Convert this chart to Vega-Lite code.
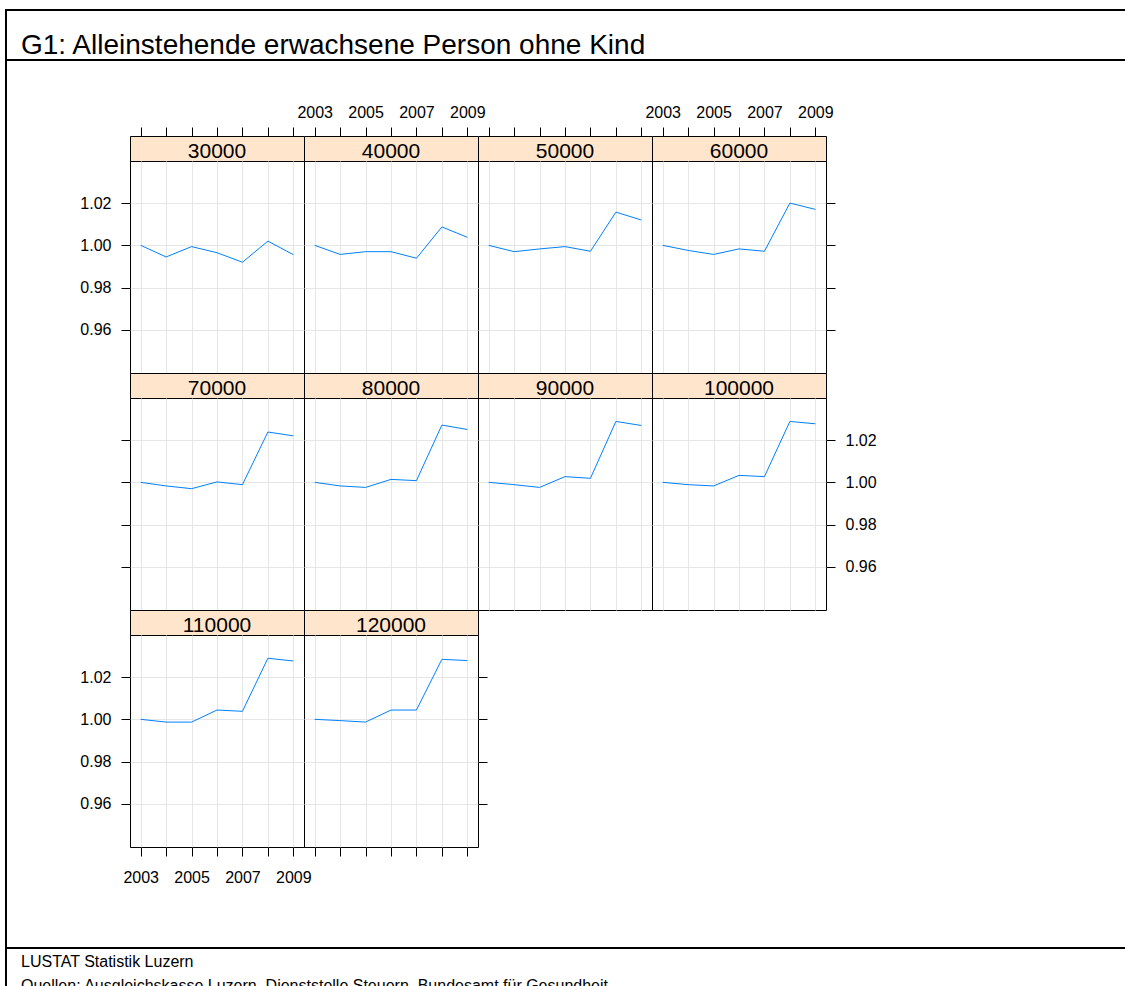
{
  "$schema": "https://vega.github.io/schema/vega-lite/v6.json",
  "padding": {"left": 5, "top": 9, "right": 0, "bottom": 0},
  "background": "white",
  "config": {
    "font": "Liberation Sans",
    "view": {"stroke": "black", "strokeWidth": 1},
    "axis": {"domain": false, "tickColor": "black", "tickWidth": 1, "labelColor": "black", "labelFont": "Liberation Sans", "labelFontSize": 16, "gridColor": "#e6e6e6", "gridWidth": 1, "tickSize": 9, "title": null, "labelFlush": false, "labelOverlap": false},
    "title": {"font": "Liberation Sans", "fontWeight": "normal", "color": "black"}
  },
  "datasets": {
    "d": [
      {"inc": 30000, "year": 2003, "value": 1.0}, {"inc": 30000, "year": 2004, "value": 0.9945}, {"inc": 30000, "year": 2005, "value": 0.9994}, {"inc": 30000, "year": 2006, "value": 0.9965}, {"inc": 30000, "year": 2007, "value": 0.992}, {"inc": 30000, "year": 2008, "value": 1.002}, {"inc": 30000, "year": 2009, "value": 0.9956},
      {"inc": 40000, "year": 2003, "value": 1.0}, {"inc": 40000, "year": 2004, "value": 0.9957}, {"inc": 40000, "year": 2005, "value": 0.997}, {"inc": 40000, "year": 2006, "value": 0.997}, {"inc": 40000, "year": 2007, "value": 0.9939}, {"inc": 40000, "year": 2008, "value": 1.0087}, {"inc": 40000, "year": 2009, "value": 1.0038},
      {"inc": 50000, "year": 2003, "value": 1.0}, {"inc": 50000, "year": 2004, "value": 0.997}, {"inc": 50000, "year": 2005, "value": 0.9983}, {"inc": 50000, "year": 2006, "value": 0.9994}, {"inc": 50000, "year": 2007, "value": 0.9972}, {"inc": 50000, "year": 2008, "value": 1.0157}, {"inc": 50000, "year": 2009, "value": 1.012},
      {"inc": 60000, "year": 2003, "value": 1.0}, {"inc": 60000, "year": 2004, "value": 0.9976}, {"inc": 60000, "year": 2005, "value": 0.9957}, {"inc": 60000, "year": 2006, "value": 0.9983}, {"inc": 60000, "year": 2007, "value": 0.9972}, {"inc": 60000, "year": 2008, "value": 1.02}, {"inc": 60000, "year": 2009, "value": 1.017},
      {"inc": 70000, "year": 2003, "value": 1.0}, {"inc": 70000, "year": 2004, "value": 0.9983}, {"inc": 70000, "year": 2005, "value": 0.997}, {"inc": 70000, "year": 2006, "value": 1.0002}, {"inc": 70000, "year": 2007, "value": 0.9989}, {"inc": 70000, "year": 2008, "value": 1.0238}, {"inc": 70000, "year": 2009, "value": 1.022},
      {"inc": 80000, "year": 2003, "value": 1.0}, {"inc": 80000, "year": 2004, "value": 0.9983}, {"inc": 80000, "year": 2005, "value": 0.9976}, {"inc": 80000, "year": 2006, "value": 1.0014}, {"inc": 80000, "year": 2007, "value": 1.0008}, {"inc": 80000, "year": 2008, "value": 1.0271}, {"inc": 80000, "year": 2009, "value": 1.025},
      {"inc": 90000, "year": 2003, "value": 1.0}, {"inc": 90000, "year": 2004, "value": 0.9989}, {"inc": 90000, "year": 2005, "value": 0.9976}, {"inc": 90000, "year": 2006, "value": 1.0027}, {"inc": 90000, "year": 2007, "value": 1.0019}, {"inc": 90000, "year": 2008, "value": 1.0288}, {"inc": 90000, "year": 2009, "value": 1.0269},
      {"inc": 100000, "year": 2003, "value": 1.0}, {"inc": 100000, "year": 2004, "value": 0.9989}, {"inc": 100000, "year": 2005, "value": 0.9983}, {"inc": 100000, "year": 2006, "value": 1.0033}, {"inc": 100000, "year": 2007, "value": 1.0027}, {"inc": 100000, "year": 2008, "value": 1.0288}, {"inc": 100000, "year": 2009, "value": 1.0277},
      {"inc": 110000, "year": 2003, "value": 1.0}, {"inc": 110000, "year": 2004, "value": 0.9987}, {"inc": 110000, "year": 2005, "value": 0.9987}, {"inc": 110000, "year": 2006, "value": 1.0044}, {"inc": 110000, "year": 2007, "value": 1.0038}, {"inc": 110000, "year": 2008, "value": 1.0289}, {"inc": 110000, "year": 2009, "value": 1.0276},
      {"inc": 120000, "year": 2003, "value": 1.0}, {"inc": 120000, "year": 2004, "value": 0.9994}, {"inc": 120000, "year": 2005, "value": 0.9987}, {"inc": 120000, "year": 2006, "value": 1.0044}, {"inc": 120000, "year": 2007, "value": 1.0044}, {"inc": 120000, "year": 2008, "value": 1.0284}, {"inc": 120000, "year": 2009, "value": 1.0278}
    ]
  },
  "spacing": 0,
  "vconcat": [
    {
      "width": 1120, "height": 50,
      "view": {"stroke": "black", "strokeWidth": 2},
      "data": {"values": []},
      "mark": "point",
      "encoding": {},
      "title": {"text": "G1: Alleinstehende erwachsene Person ohne Kind", "orient": "top", "anchor": "start", "frame": "group", "offset": -72, "baseline": "alphabetic", "dx": 15, "fontSize": 28}
    },
    {
      "columns": 6,
      "spacing": 0,
      "bounds": "flush",
      "align": "each",
      "concat": [
        {"width": 0.01, "height": 74, "view": {"stroke": "black", "strokeWidth": 2}, "data": {"values": []}, "mark": "point", "encoding": {}},
        {"width": 123, "height": 74, "view": {"stroke": null}, "data": {"values": []}, "mark": "point", "encoding": {}},
        {"width": 1, "height": 1, "view": {"stroke": null}, "data": {"values": []}, "mark": "point", "encoding": {}},
        {"width": 1, "height": 1, "view": {"stroke": null}, "data": {"values": []}, "mark": "point", "encoding": {}},
        {"width": 1, "height": 1, "view": {"stroke": null}, "data": {"values": []}, "mark": "point", "encoding": {}},
        {"width": 1, "height": 1, "view": {"stroke": null}, "data": {"values": []}, "mark": "point", "encoding": {}},

        {"width": 0.01, "height": 25, "view": {"stroke": "black", "strokeWidth": 2}, "data": {"values": []}, "mark": "point", "encoding": {}},
        {"width": 1, "height": 1, "view": {"stroke": null}, "data": {"values": []}, "mark": "point", "encoding": {}},
        {"width": 174, "height": 25, "view": {"fill": "#ffe5cc", "stroke": "black"}, "data": {"values": [{"lab": "30000"}]}, "mark": {"type": "text", "fontSize": 21, "dy": 3, "color": "black"}, "encoding": {"text": {"field": "lab", "type": "nominal"}}},
        {"width": 174, "height": 25, "view": {"fill": "#ffe5cc", "stroke": "black"}, "data": {"values": [{"lab": "40000"}]}, "mark": {"type": "text", "fontSize": 21, "dy": 3, "color": "black"}, "encoding": {"text": {"field": "lab", "type": "nominal"}}},
        {"width": 174, "height": 25, "view": {"fill": "#ffe5cc", "stroke": "black"}, "data": {"values": [{"lab": "50000"}]}, "mark": {"type": "text", "fontSize": 21, "dy": 3, "color": "black"}, "encoding": {"text": {"field": "lab", "type": "nominal"}}},
        {"width": 174, "height": 25, "view": {"fill": "#ffe5cc", "stroke": "black"}, "data": {"values": [{"lab": "60000"}]}, "mark": {"type": "text", "fontSize": 21, "dy": 3, "color": "black"}, "encoding": {"text": {"field": "lab", "type": "nominal"}}},

        {"width": 0.01, "height": 212, "view": {"stroke": "black", "strokeWidth": 2}, "data": {"values": []}, "mark": "point", "encoding": {}},
        {"width": 1, "height": 1, "view": {"stroke": null}, "data": {"values": []}, "mark": "point", "encoding": {}},
        {"width": 174, "height": 212, "data": {"name": "d"}, "transform": [{"filter": "datum.inc == 30000"}], "mark": {"type": "line", "color": "#0080ff", "strokeWidth": 1},
         "encoding": {
           "x": {"field": "year", "type": "quantitative", "scale": {"domain": [2002.58, 2009.42], "nice": false, "zero": false}, "axis": {"orient": "top", "offset": 25, "values": [2003, 2004, 2005, 2006, 2007, 2008, 2009], "labels": false, "grid": true}},
           "y": {"field": "value", "type": "quantitative", "scale": {"domain": [0.9396, 1.0399], "nice": false, "zero": false}, "axis": {"orient": "left", "values": [0.96, 0.98, 1.0, 1.02], "format": ".2f", "labelPadding": 10, "grid": true}}
         }},
        {"width": 174, "height": 212, "data": {"name": "d"}, "transform": [{"filter": "datum.inc == 40000"}], "mark": {"type": "line", "color": "#0080ff", "strokeWidth": 1},
         "encoding": {
           "x": {"field": "year", "type": "quantitative", "scale": {"domain": [2002.58, 2009.42], "nice": false, "zero": false}, "axis": {"orient": "top", "offset": 25, "values": [2003, 2004, 2005, 2006, 2007, 2008, 2009], "format": "d", "labelExpr": "datum.value % 2 == 1 ? datum.label : ''", "labelPadding": 7, "grid": true}},
           "y": {"field": "value", "type": "quantitative", "scale": {"domain": [0.9396, 1.0399], "nice": false, "zero": false}, "axis": {"values": [0.96, 0.98, 1.0, 1.02], "ticks": false, "labels": false, "grid": true}}
         }},
        {"width": 174, "height": 212, "data": {"name": "d"}, "transform": [{"filter": "datum.inc == 50000"}], "mark": {"type": "line", "color": "#0080ff", "strokeWidth": 1},
         "encoding": {
           "x": {"field": "year", "type": "quantitative", "scale": {"domain": [2002.58, 2009.42], "nice": false, "zero": false}, "axis": {"orient": "top", "offset": 25, "values": [2003, 2004, 2005, 2006, 2007, 2008, 2009], "labels": false, "grid": true}},
           "y": {"field": "value", "type": "quantitative", "scale": {"domain": [0.9396, 1.0399], "nice": false, "zero": false}, "axis": {"values": [0.96, 0.98, 1.0, 1.02], "ticks": false, "labels": false, "grid": true}}
         }},
        {"width": 174, "height": 212, "data": {"name": "d"}, "transform": [{"filter": "datum.inc == 60000"}], "mark": {"type": "line", "color": "#0080ff", "strokeWidth": 1},
         "encoding": {
           "x": {"field": "year", "type": "quantitative", "scale": {"domain": [2002.58, 2009.42], "nice": false, "zero": false}, "axis": {"orient": "top", "offset": 25, "values": [2003, 2004, 2005, 2006, 2007, 2008, 2009], "format": "d", "labelExpr": "datum.value % 2 == 1 ? datum.label : ''", "labelPadding": 7, "grid": true}},
           "y": {"field": "value", "type": "quantitative", "scale": {"domain": [0.9396, 1.0399], "nice": false, "zero": false}, "axis": {"orient": "right", "values": [0.96, 0.98, 1.0, 1.02], "labels": false, "grid": true}}
         }},

        {"width": 0.01, "height": 25, "view": {"stroke": "black", "strokeWidth": 2}, "data": {"values": []}, "mark": "point", "encoding": {}},
        {"width": 1, "height": 1, "view": {"stroke": null}, "data": {"values": []}, "mark": "point", "encoding": {}},
        {"width": 174, "height": 25, "view": {"fill": "#ffe5cc", "stroke": "black"}, "data": {"values": [{"lab": "70000"}]}, "mark": {"type": "text", "fontSize": 21, "dy": 3, "color": "black"}, "encoding": {"text": {"field": "lab", "type": "nominal"}}},
        {"width": 174, "height": 25, "view": {"fill": "#ffe5cc", "stroke": "black"}, "data": {"values": [{"lab": "80000"}]}, "mark": {"type": "text", "fontSize": 21, "dy": 3, "color": "black"}, "encoding": {"text": {"field": "lab", "type": "nominal"}}},
        {"width": 174, "height": 25, "view": {"fill": "#ffe5cc", "stroke": "black"}, "data": {"values": [{"lab": "90000"}]}, "mark": {"type": "text", "fontSize": 21, "dy": 3, "color": "black"}, "encoding": {"text": {"field": "lab", "type": "nominal"}}},
        {"width": 174, "height": 25, "view": {"fill": "#ffe5cc", "stroke": "black"}, "data": {"values": [{"lab": "100000"}]}, "mark": {"type": "text", "fontSize": 21, "dy": 3, "color": "black"}, "encoding": {"text": {"field": "lab", "type": "nominal"}}},

        {"width": 0.01, "height": 212, "view": {"stroke": "black", "strokeWidth": 2}, "data": {"values": []}, "mark": "point", "encoding": {}},
        {"width": 1, "height": 1, "view": {"stroke": null}, "data": {"values": []}, "mark": "point", "encoding": {}},
        {"width": 174, "height": 212, "data": {"name": "d"}, "transform": [{"filter": "datum.inc == 70000"}], "mark": {"type": "line", "color": "#0080ff", "strokeWidth": 1},
         "encoding": {
           "x": {"field": "year", "type": "quantitative", "scale": {"domain": [2002.58, 2009.42], "nice": false, "zero": false}, "axis": {"values": [2003, 2004, 2005, 2006, 2007, 2008, 2009], "ticks": false, "labels": false, "grid": true}},
           "y": {"field": "value", "type": "quantitative", "scale": {"domain": [0.9396, 1.0399], "nice": false, "zero": false}, "axis": {"orient": "left", "values": [0.96, 0.98, 1.0, 1.02], "labels": false, "grid": true}}
         }},
        {"width": 174, "height": 212, "data": {"name": "d"}, "transform": [{"filter": "datum.inc == 80000"}], "mark": {"type": "line", "color": "#0080ff", "strokeWidth": 1},
         "encoding": {
           "x": {"field": "year", "type": "quantitative", "scale": {"domain": [2002.58, 2009.42], "nice": false, "zero": false}, "axis": {"values": [2003, 2004, 2005, 2006, 2007, 2008, 2009], "ticks": false, "labels": false, "grid": true}},
           "y": {"field": "value", "type": "quantitative", "scale": {"domain": [0.9396, 1.0399], "nice": false, "zero": false}, "axis": {"values": [0.96, 0.98, 1.0, 1.02], "ticks": false, "labels": false, "grid": true}}
         }},
        {"width": 174, "height": 212, "data": {"name": "d"}, "transform": [{"filter": "datum.inc == 90000"}], "mark": {"type": "line", "color": "#0080ff", "strokeWidth": 1},
         "encoding": {
           "x": {"field": "year", "type": "quantitative", "scale": {"domain": [2002.58, 2009.42], "nice": false, "zero": false}, "axis": {"values": [2003, 2004, 2005, 2006, 2007, 2008, 2009], "ticks": false, "labels": false, "grid": true}},
           "y": {"field": "value", "type": "quantitative", "scale": {"domain": [0.9396, 1.0399], "nice": false, "zero": false}, "axis": {"values": [0.96, 0.98, 1.0, 1.02], "ticks": false, "labels": false, "grid": true}}
         }},
        {"width": 174, "height": 212, "data": {"name": "d"}, "transform": [{"filter": "datum.inc == 100000"}], "mark": {"type": "line", "color": "#0080ff", "strokeWidth": 1},
         "encoding": {
           "x": {"field": "year", "type": "quantitative", "scale": {"domain": [2002.58, 2009.42], "nice": false, "zero": false}, "axis": {"values": [2003, 2004, 2005, 2006, 2007, 2008, 2009], "ticks": false, "labels": false, "grid": true}},
           "y": {"field": "value", "type": "quantitative", "scale": {"domain": [0.9396, 1.0399], "nice": false, "zero": false}, "axis": {"orient": "right", "values": [0.96, 0.98, 1.0, 1.02], "format": ".2f", "labelPadding": 10, "grid": true}}
         }},

        {"width": 0.01, "height": 25, "view": {"stroke": "black", "strokeWidth": 2}, "data": {"values": []}, "mark": "point", "encoding": {}},
        {"width": 1, "height": 1, "view": {"stroke": null}, "data": {"values": []}, "mark": "point", "encoding": {}},
        {"width": 174, "height": 25, "view": {"fill": "#ffe5cc", "stroke": "black"}, "data": {"values": [{"lab": "110000"}]}, "mark": {"type": "text", "fontSize": 21, "dy": 3, "color": "black"}, "encoding": {"text": {"field": "lab", "type": "nominal"}}},
        {"width": 174, "height": 25, "view": {"fill": "#ffe5cc", "stroke": "black"}, "data": {"values": [{"lab": "120000"}]}, "mark": {"type": "text", "fontSize": 21, "dy": 3, "color": "black"}, "encoding": {"text": {"field": "lab", "type": "nominal"}}},
        {"width": 1, "height": 1, "view": {"stroke": null}, "data": {"values": []}, "mark": "point", "encoding": {}},
        {"width": 1, "height": 1, "view": {"stroke": null}, "data": {"values": []}, "mark": "point", "encoding": {}},

        {"width": 0.01, "height": 212, "view": {"stroke": "black", "strokeWidth": 2}, "data": {"values": []}, "mark": "point", "encoding": {}},
        {"width": 1, "height": 1, "view": {"stroke": null}, "data": {"values": []}, "mark": "point", "encoding": {}},
        {"width": 174, "height": 212, "data": {"name": "d"}, "transform": [{"filter": "datum.inc == 110000"}], "mark": {"type": "line", "color": "#0080ff", "strokeWidth": 1},
         "encoding": {
           "x": {"field": "year", "type": "quantitative", "scale": {"domain": [2002.58, 2009.42], "nice": false, "zero": false}, "axis": {"orient": "bottom", "values": [2003, 2004, 2005, 2006, 2007, 2008, 2009], "format": "d", "labelExpr": "datum.value % 2 == 1 ? datum.label : ''", "labelPadding": 13, "grid": true}},
           "y": {"field": "value", "type": "quantitative", "scale": {"domain": [0.9396, 1.0399], "nice": false, "zero": false}, "axis": {"orient": "left", "values": [0.96, 0.98, 1.0, 1.02], "format": ".2f", "labelPadding": 10, "grid": true}}
         }},
        {"width": 174, "height": 212, "data": {"name": "d"}, "transform": [{"filter": "datum.inc == 120000"}], "mark": {"type": "line", "color": "#0080ff", "strokeWidth": 1},
         "encoding": {
           "x": {"field": "year", "type": "quantitative", "scale": {"domain": [2002.58, 2009.42], "nice": false, "zero": false}, "axis": {"orient": "bottom", "values": [2003, 2004, 2005, 2006, 2007, 2008, 2009], "labels": false, "grid": true}},
           "y": {"field": "value", "type": "quantitative", "scale": {"domain": [0.9396, 1.0399], "nice": false, "zero": false}, "axis": {"orient": "right", "values": [0.96, 0.98, 1.0, 1.02], "labels": false, "grid": true}}
         }},
        {"width": 1, "height": 1, "view": {"stroke": null}, "data": {"values": []}, "mark": "point", "encoding": {}},
        {"width": 1, "height": 1, "view": {"stroke": null}, "data": {"values": []}, "mark": "point", "encoding": {}},

        {"width": 0.01, "height": 99, "view": {"stroke": "black", "strokeWidth": 2}, "data": {"values": []}, "mark": "point", "encoding": {}}
      ]
    },
    {
      "width": 1120, "height": 50,
      "view": {"stroke": "black", "strokeWidth": 2},
      "data": {"values": []},
      "mark": "point",
      "encoding": {},
      "title": {"text": ["LUSTAT Statistik Luzern", "Quellen: Ausgleichskasse Luzern, Dienststelle Steuern, Bundesamt für Gesundheit"], "orient": "top", "anchor": "start", "frame": "group", "offset": -59, "baseline": "alphabetic", "dx": 15, "fontSize": 16, "lineHeight": 24}
    }
  ]
}
